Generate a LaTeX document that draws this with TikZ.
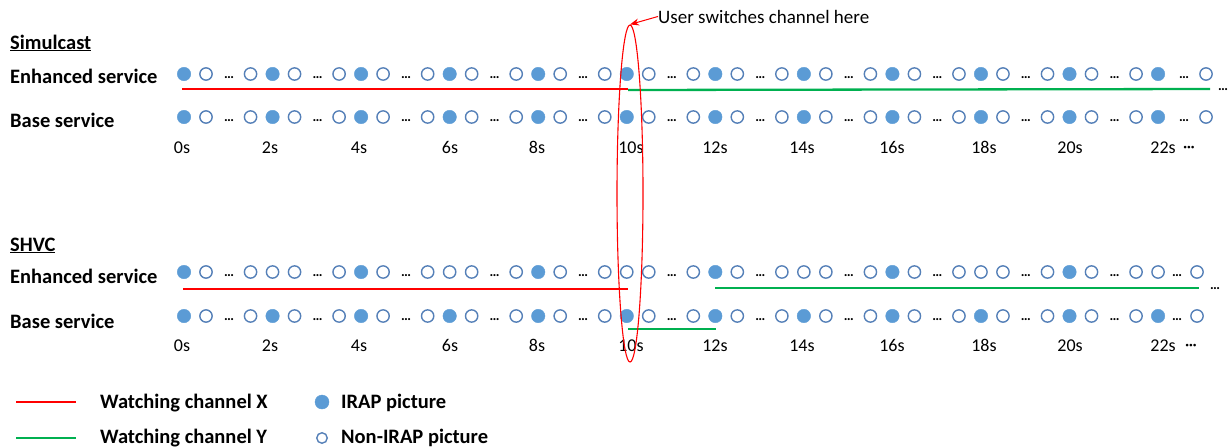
\documentclass[tikz,border=0pt]{standalone}
\usepackage{fontspec}
\setmainfont{Carlito}
\usetikzlibrary{positioning,calc,arrows.meta,shapes.geometric}

\definecolor{irapblue}{HTML}{5B9BD5}
\definecolor{ringblue}{HTML}{5580B8}
\definecolor{chgreen}{HTML}{00B050}

\begin{document}
\begin{tikzpicture}[
    x=1pt, y=-1pt,
    irap/.style={circle, fill=irapblue, draw=irapblue, minimum size=13.5pt, inner sep=0pt},
    nonirap/.style={circle, fill=white, draw=ringblue, line width=1.4pt, minimum size=12.3pt, inner sep=0pt},
    gap/.style={inner sep=0pt, anchor=base, font=\bfseries\fontsize{14}{14}\selectfont},
    rowlabel/.style={anchor=base west, inner sep=0pt, font=\bfseries\fontsize{20.5}{24}\selectfont},
    timelabel/.style={anchor=base, inner sep=0pt, font=\fontsize{18}{20}\selectfont},
    chx/.style={draw=red, line width=2.3pt},
    chy/.style={draw=chgreen, line width=2.3pt}
]
\useasboundingbox (0,0) rectangle (1230,447);

% Headings and row labels
\node[rowlabel] (simul) at (10,49) {\underline{Simulcast}};
\node[rowlabel] (senh) at (10,83) {Enhanced service};
\node[rowlabel] (sbase) at (10,127) {Base service};
\node[rowlabel] (shvc) at (10,251) {\underline{SHVC}};
\node[rowlabel] (henh) at (10,283) {Enhanced service};
\node[rowlabel] (hbase) at (10,328) {Base service};

% Picture rows
\foreach \rw/\ry/\hv in {se/74/0, sb/117/0, he/272/1, hb/316/0} {
  \foreach \gi in {0,...,11} {
    \pgfmathsetmacro{\gx}{184+88.55*\gi}
    \pgfmathtruncatemacro{\hole}{\hv*mod(\gi,2)}
    \ifnum\hole=1
      \node[nonirap] (\rw\gi) at (\gx,\ry) {};
    \else
      \node[irap] (\rw\gi) at (\gx,\ry) {};
    \fi
    \ifnum\gi>0 \node[nonirap] (\rw a\gi) at (\gx-22,\ry) {}; \fi
    \ifnum\gi<11
      \node[nonirap] (\rw b\gi) at (\gx+22,\ry) {};
      \node[gap] (\rw d\gi) at (\gx+45,\ry+4.5) {\dots};
    \fi
  }
}
\node[gap] (sed11) at (1184,78.5) {\dots};
\node[nonirap] (seend) at (1206,74) {};
\node[gap] (sbd11) at (1184,121.5) {\dots};
\node[nonirap] (sbend) at (1206,117) {};
\node[gap] (hed11) at (1177,276.5) {\dots};
\node[nonirap] (heend) at (1197,272) {};
\node[gap] (hbd11) at (1177,320.5) {\dots};
\node[nonirap] (hbend) at (1197,316) {};

% Time axis
\foreach \tl/\ty in {s/153, h/351} {
  \foreach \secs/\tx in {0/182, 2/270, 4/359, 6/450, 8/537, 10/631, 12/715, 14/802, 16/892, 18/984, 20/1070, 22/1163} {
    \node[timelabel] (\tl t\secs) at (\tx,\ty) {\secs s};
  }
}
\node[timelabel, font=\bfseries\fontsize{14}{14}\selectfont] (stmore) at (1189,151) {\textperiodcentered\textperiodcentered\textperiodcentered};
\node[timelabel, font=\bfseries\fontsize{14}{14}\selectfont] (htmore) at (1191,349) {\textperiodcentered\textperiodcentered\textperiodcentered};

% Watching lines
\coordinate (sxa) at (182,89);
\coordinate (sxb) at (628,89);
\coordinate (sya) at (628,90);
\coordinate (syb) at (1210,89);
\coordinate (hxa) at (183,289);
\coordinate (hxb) at (628,289);
\coordinate (hya) at (715,288);
\coordinate (hyb) at (1199,288);
\coordinate (hba) at (628,329);
\coordinate (hbb) at (716,329);
\draw[chx] (sxa) -- (sxb);
\draw[chy] (sya) -- (syb);
\draw[chx] (hxa) -- (hxb);
\draw[chy] (hya) -- (hyb);
\draw[chy] (hba) -- (hbb);
\node[gap] (symore) at (1223,90.5) {\dots};
\node[gap] (hymore) at (1215,289.5) {\dots};

% Channel switch
\node[ellipse, draw=red, line width=1.1pt, minimum width=26pt, minimum height=337pt, inner sep=0pt] (switch) at (630,193.5) {};
\node[anchor=base west, inner sep=0pt, font=\fontsize{19}{22}\selectfont] (callout) at (658,23) {User switches channel here};
\draw[-{Stealth[length=9pt,width=7pt]}, red, line width=1pt] (callout.west) -- (switch.north);

% Legend
\coordinate (lxa) at (16,402);
\coordinate (lxb) at (76,402);
\coordinate (lya) at (16,438);
\coordinate (lyb) at (76,438);
\draw[chx] (lxa) -- (lxb);
\draw[chy] (lya) -- (lyb);
\node[rowlabel] (lxtext) at (100,408) {Watching channel X};
\node[rowlabel] (lytext) at (100,443) {Watching channel Y};
\node[irap, minimum size=14pt] (lirap) at (322,402) {};
\node[nonirap, minimum size=10.5pt] (lnon) at (322,438) {};
\node[rowlabel] (liraptext) at (341,408) {IRAP picture};
\node[rowlabel] (lnontext) at (341,443) {Non-IRAP picture};

\end{tikzpicture}
\end{document}
